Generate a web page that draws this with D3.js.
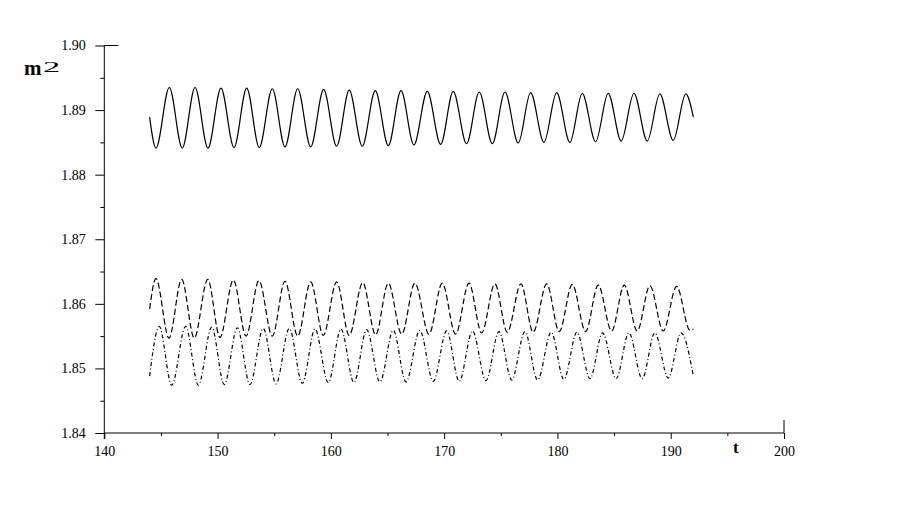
<!DOCTYPE html>
<html>
<head>
<meta charset="utf-8">
<script src="https://cdn.jsdelivr.net/npm/d3@7"></script>
<style>
  html, body { margin: 0; padding: 0; background: #fff; }
  svg { display: block; }
  .tick text { font-family: "Liberation Serif", "DejaVu Serif", serif; font-size: 14px; fill: #000; }
</style>
</head>
<body>
<svg id="chart" width="899" height="518"></svg>
<script>
// ---- data ----
const xTicks = [140, 150, 160, 170, 180, 190, 200];
const xMinorTicks = [145, 155, 165, 175, 185, 195];
const yTicks = [1.84, 1.85, 1.86, 1.87, 1.88, 1.89, 1.90];
const yMinorTicks = [1.845, 1.855, 1.865, 1.875, 1.885, 1.895];
const xLabel = "t";
const yLabel = "m";
const yLabelSup = "2";

// solid series: start, then alternating troughs/peaks, end
const solidT = [144.00, 144.56, 145.74, 146.88, 148.01, 149.15, 150.30, 151.45, 152.57, 153.68, 154.83,
  155.95, 157.07, 158.22, 159.36, 160.51, 161.62, 162.77, 163.92, 165.07, 166.19, 167.33, 168.51,
  169.69, 170.80, 171.98, 173.10, 174.25, 175.37, 176.54, 177.63, 178.81, 179.93, 181.10, 182.19,
  183.37, 184.48, 185.63, 186.75, 187.93, 189.04, 190.22, 191.33, 192.00];
const solidV = [1.8889, 1.8841, 1.8935, 1.8841, 1.8935, 1.8841, 1.8934, 1.8842, 1.8934, 1.8842, 1.8933,
  1.8843, 1.8933, 1.8843, 1.8932, 1.8844, 1.8931, 1.8844, 1.8930, 1.8845, 1.8930, 1.8846, 1.8929,
  1.8847, 1.8929, 1.8848, 1.8928, 1.8848, 1.8928, 1.8849, 1.8927, 1.8850, 1.8927, 1.8850, 1.8926,
  1.8851, 1.8926, 1.8852, 1.8926, 1.8852, 1.8925, 1.8853, 1.8925, 1.8889];

// dashed series: start, then alternating peaks/troughs, end
const dashedT = [144.00, 144.56, 145.71, 146.83, 147.94, 149.13, 150.21, 151.39, 152.51, 153.65, 154.83,
  155.95, 157.07, 158.22, 159.33, 160.51, 161.62, 162.81, 163.95, 165.07, 166.25, 167.42, 168.66,
  169.83, 171.01, 172.19, 173.31, 174.48, 175.57, 176.78, 177.86, 179.05, 180.16, 181.31, 182.49,
  183.60, 184.78, 185.90, 187.04, 188.16, 189.34, 190.52, 191.70, 192.00];
const dashedV = [1.8592, 1.8639, 1.8547, 1.8638, 1.8547, 1.8638, 1.8548, 1.8637, 1.8550, 1.8636, 1.8550,
  1.8635, 1.8550, 1.8634, 1.8551, 1.8634, 1.8551, 1.8633, 1.8552, 1.8632, 1.8553, 1.8632, 1.8553,
  1.8632, 1.8553, 1.8632, 1.8555, 1.8631, 1.8556, 1.8631, 1.8556, 1.8631, 1.8557, 1.8630, 1.8557,
  1.8629, 1.8558, 1.8629, 1.8558, 1.8628, 1.8558, 1.8627, 1.8559, 1.8561];

// dash-dot series: start, then alternating peaks/troughs, end
const dashDotT = [144.00, 144.85, 145.95, 147.18, 148.30, 149.48, 150.59, 151.74, 152.86, 154.03, 155.16,
  156.33, 157.48, 158.60, 159.77, 160.89, 162.04, 163.16, 164.33, 165.51, 166.63, 167.85, 169.04,
  170.22, 171.33, 172.50, 173.69, 174.84, 175.96, 177.13, 178.25, 179.45, 180.57, 181.72, 182.87,
  183.99, 185.18, 186.31, 187.48, 188.60, 189.78, 190.92, 192.00];
const dashDotV = [1.8488, 1.8565, 1.8474, 1.8565, 1.8474, 1.8564, 1.8475, 1.8563, 1.8475, 1.8562, 1.8476,
  1.8562, 1.8477, 1.8561, 1.8478, 1.8561, 1.8478, 1.8560, 1.8479, 1.8559, 1.8479, 1.8559, 1.8480,
  1.8558, 1.8480, 1.8558, 1.8481, 1.8557, 1.8482, 1.8557, 1.8482, 1.8556, 1.8483, 1.8556, 1.8484,
  1.8555, 1.8484, 1.8555, 1.8484, 1.8555, 1.8485, 1.8555, 1.8488];

const series = [
  { t: solidT, v: solidV, dash: null },
  { t: dashedT, v: dashedV, dash: "6,3" },
  { t: dashDotT, v: dashDotV, dash: "4,2.5,1,2.5" }
];

// ---- drawing ----
const svg = d3.select("#chart");
svg.append("rect").attr("width", 899).attr("height", 518).attr("fill", "#fff");

const x = d3.scaleLinear().domain([140, 200]).range([104.3, 784]);
const y = d3.scaleLinear().domain([1.84, 1.90]).range([433, 45.5]);

// x axis
const gx = svg.append("g").attr("transform", `translate(0,${y(1.84)})`);
gx.call(d3.axisBottom(x).tickValues(xTicks).tickSize(6).tickPadding(7).tickFormat(d3.format("d")));
gx.append("g").call(d3.axisBottom(x).tickValues(xMinorTicks).tickSize(3).tickFormat(""))
  .select(".domain").remove();

// y axis
const gy = svg.append("g").attr("transform", `translate(${x(140)},0)`);
gy.call(d3.axisLeft(y).tickValues(yTicks).tickSize(9).tickPadding(9.5).tickFormat(d3.format(".2f")));
gy.append("g").call(d3.axisLeft(y).tickValues(yMinorTicks).tickSize(4).tickFormat(""))
  .select(".domain").remove();

svg.selectAll(".domain").attr("stroke", "#000").attr("stroke-width", 1);
svg.selectAll(".tick line").attr("stroke", "#000").attr("stroke-width", 1);
gx.select(".domain").attr("d", `M${x(140)},0H${x(200)}`);
gy.select(".domain").attr("d", `M0,${y(1.84) + 6}V${y(1.90)}`);

// end ticks crossing the axes
svg.append("line").attr("x1", x(200)).attr("x2", x(200))
  .attr("y1", y(1.84) - 13).attr("y2", y(1.84)).attr("stroke", "#000");
svg.append("line").attr("x1", x(140)).attr("x2", x(140) + 14)
  .attr("y1", y(1.90)).attr("y2", y(1.90)).attr("stroke", "#000");

// axis labels
svg.append("text").attr("x", 733).attr("y", 453)
  .attr("font-family", "Liberation Serif, serif").attr("font-size", 17).attr("font-weight", "bold")
  .text(xLabel);
svg.append("text").attr("x", 24).attr("y", 75)
  .attr("font-family", "Liberation Serif, serif").attr("font-size", 21).attr("font-weight", "bold")
  .text(yLabel);
svg.append("text")
  .attr("transform", "translate(43,72) scale(2.3,1)")
  .attr("font-family", "Liberation Serif, serif").attr("font-size", 15)
  .text(yLabelSup);

// curves
const line = d3.line().x(d => x(d[0])).y(d => y(d[1])).curve(d3.curveMonotoneX);
series.forEach(s => {
  const pts = s.t.map((t, i) => [t, s.v[i]]);
  svg.append("path").datum(pts)
    .attr("d", line)
    .attr("fill", "none")
    .attr("stroke", "#000")
    .attr("stroke-width", 1.2)
    .attr("stroke-dasharray", s.dash);
});
</script>
</body>
</html>
